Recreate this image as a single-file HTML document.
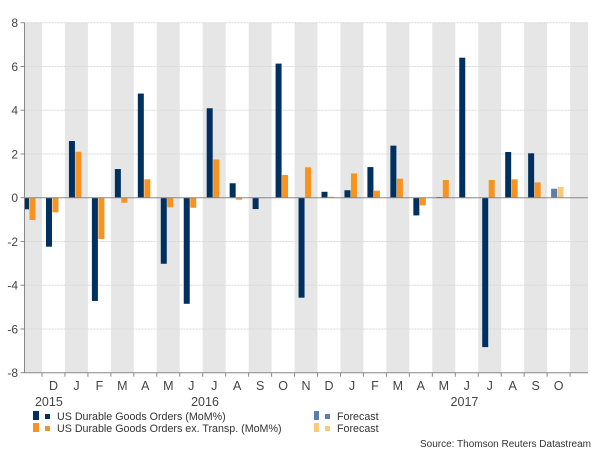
<!DOCTYPE html>
<html><head><meta charset="utf-8"><style>
html,body{margin:0;padding:0;background:#fff;}
svg{display:block;font-family:"Liberation Sans",Arial,sans-serif;}
</style></head><body>
<svg id="chart" width="600" height="450" viewBox="0 0 600 450">
<g id="bands"></g>
<g id="grid"></g>
<g id="bars"></g>
<g id="axes"></g>
<g font-size="10.7" fill="#333">
 <rect x="33" y="411" width="6" height="9" fill="#00305f"/>
 <rect x="45" y="414" width="5" height="5" fill="#00305f"/>
 <text x="57" y="420">US Durable Goods Orders (MoM%)</text>
 <rect x="33" y="423" width="6" height="9" fill="#f7931e"/>
 <rect x="45" y="426" width="5" height="5" fill="#f7931e"/>
 <text x="57" y="432">US Durable Goods Orders ex. Transp. (MoM%)</text>
 <rect x="314" y="411" width="5" height="9" fill="#5b7fa6"/>
 <rect x="325" y="414" width="5" height="5" fill="#5b7fa6"/>
 <text x="337" y="420">Forecast</text>
 <rect x="314" y="423" width="5" height="9" fill="#fbc97a"/>
 <rect x="325" y="426" width="5" height="5" fill="#fbc97a"/>
 <text x="337" y="432">Forecast</text>
</g>
<text x="591" y="447" text-anchor="end" font-size="10" fill="#333">Source: Thomson Reuters Datastream</text>
</svg>
<script>
const months = ["N","D","J","F","M","A","M","J","J","A","S","O","N","D","J","F","M","A","M","J","J","A","S","O","N"];
const orders = [-0.53,-2.24,2.59,-4.72,1.31,4.76,-3.02,-4.85,4.09,0.66,-0.52,6.13,-4.57,0.27,0.34,1.4,2.38,-0.81,0.03,6.4,-6.83,2.09,2.03,null,null];
const exTransp = [-1.02,-0.67,2.1,-1.89,-0.23,0.84,-0.44,-0.46,1.75,-0.09,0,1.04,1.39,0.04,1.11,0.32,0.87,-0.35,0.81,0,0.81,0.84,0.7,null,null];
const forecastOrders = [null,null,null,null,null,null,null,null,null,null,null,null,null,null,null,null,null,null,null,null,null,null,null,0.41,null];
const forecastExTransp = [null,null,null,null,null,null,null,null,null,null,null,null,null,null,null,null,null,null,null,null,null,null,null,0.49,null];
const yTicks = [8,6,4,2,0,-2,-4,-6,-8];
const years = [{label:"2015",idx:0.8},{label:"2016",idx:7.6},{label:"2017",idx:18.9}];

const NS="http://www.w3.org/2000/svg";
const L=24.5,R=588,T=22.7,B=372.7,yMin=-8,yMax=8;
const bw=22.96, x0=42;
function y(v){return T+(yMax-v)/(yMax-yMin)*(B-T);}
function cx(i){return x0+(i-0.5)*bw;}
function mk(tag,attrs,parent){const e=document.createElementNS(NS,tag);for(const k in attrs)e.setAttribute(k,attrs[k]);parent.appendChild(e);return e;}
const bands=document.getElementById('bands'),grid=document.getElementById('grid'),bars=document.getElementById('bars'),axes=document.getElementById('axes');

months.forEach((m,i)=>{
  if(i%2===0){
    const a=Math.max(L,cx(i)-bw/2), b=Math.min(R,cx(i)+bw/2);
    const r=mk('rect',{x:a,y:T,width:b-a,height:B-T,fill:'#e6e6e6'},bands);
    
    
  }
});
yTicks.forEach(v=>{
  if(v!==0 && v!==-8){
    const g=mk('line',{x1:L,x2:R,y1:y(v),y2:y(v),stroke:'#d8d8d8','stroke-width':1,'stroke-dasharray':'2,1'},grid);
    
    
  }
  const t=mk('text',{x:18,y:y(v)+4.5,'text-anchor':'end','font-size':12,fill:'#444'},axes);
  t.textContent=v;
  
  
  const tk=mk('line',{x1:L-4,x2:L,y1:y(v),y2:y(v),stroke:'#888'},axes);
  
  
});
function bar(v,x,w,fill){
  if(v===null)return;
  const top=Math.min(y(v),y(0)),h=Math.abs(y(v)-y(0));
  const r=mk('rect',{x:Math.max(L,x),y:top,width:Math.max(0,Math.min(w,x+w-L)),height:Math.max(h,0.5),fill:fill},bars);
  
  
}
months.forEach((m,i)=>{
  const c=cx(i);
  bar(orders[i],c-7.5,6,'#00305f');
  bar(exTransp[i],c-1,6,'#f7931e');
  bar(forecastOrders[i],c-7.5,6,'#5b7fa6');
  bar(forecastExTransp[i],c-1,6,'#fbc97a');
  if(i>0 && i<months.length-1){
    const t=mk('text',{x:c,y:390,'text-anchor':'middle','font-size':12.5,fill:'#444'},axes);
    t.textContent=m;
    
    
  }
  if(i>0){
    const tk=mk('line',{x1:c-bw/2,x2:c-bw/2,y1:B,y2:B+4,stroke:'#888'},axes);
    
    
  }
});
years.forEach(yr=>{
  const t=mk('text',{x:cx(yr.idx),y:406,'text-anchor':'middle','font-size':12.5,fill:'#444'},axes);
  t.textContent=yr.label;
  
  
});
const z=mk('line',{x1:L,x2:R,y1:y(0),y2:y(0),stroke:'#888','stroke-width':1},axes);


const ya=mk('line',{x1:L,x2:L,y1:T,y2:B,stroke:'#888'},axes);


const xa=mk('line',{x1:L,x2:R,y1:B,y2:B,stroke:'#888'},axes);


</script>
</body></html>
